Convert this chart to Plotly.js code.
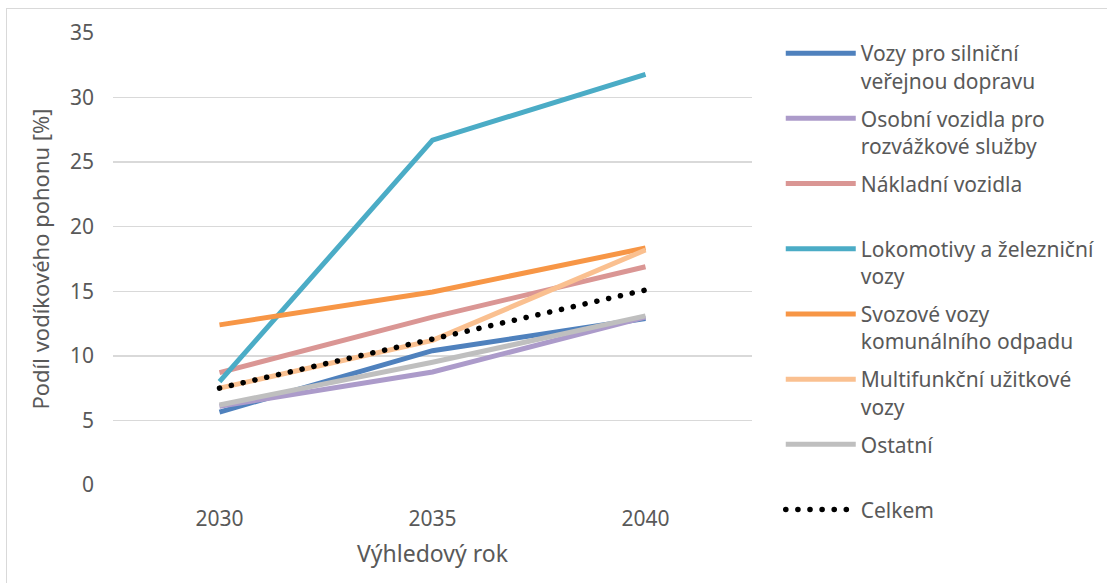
<!DOCTYPE html>
<html>
<head>
<meta charset="utf-8">
<script src="https://cdn.plot.ly/plotly-3.0.1.min.js"></script>
<style>
  html, body { margin: 0; padding: 0; background: #fff; }
  #wrap { position: relative; width: 1107px; height: 583px; overflow: hidden; }
  #frame { position: absolute; left: 6px; top: 8px; width: 1200px; height: 700px; border-left: 1px solid #d9d9d9; border-top: 1px solid #d9d9d9; pointer-events: none; }
  #chart { position: absolute; left: 0; top: 0; width: 1140px; height: 583px; }
</style>
</head>
<body>
<div id="wrap">
  <div id="chart"></div>
  <div id="frame"></div>
</div>
<script>
const years = ['2030', '2035', '2040'];

const seriesNames = [
  'Vozy pro silniční<br>veřejnou dopravu',
  'Osobní vozidla pro<br>rozvážkové služby',
  'Nákladní vozidla<br>\u00a0',
  'Lokomotivy a železniční<br>vozy',
  'Svozové vozy<br>komunálního odpadu',
  'Multifunkční užitkové<br>vozy',
  'Ostatní<br>\u00a0',
  'Celkem'
];

const vozyVerejna   = [5.65, 10.4, 12.9];
const osobniRozvoz  = [6.1, 8.75, 13.0];
const nakladni      = [8.7, 13.0, 16.9];
const lokomotivy    = [8.0, 26.7, 31.8];
const svozove       = [12.4, 14.95, 18.35];
const multifunkcni  = [7.5, 11.2, 18.2];
const ostatni       = [6.2, 9.5, 13.1];
const celkem        = [7.5, 11.3, 15.1];

const seriesValues = [vozyVerejna, osobniRozvoz, nakladni, lokomotivy, svozove, multifunkcni, ostatni, celkem];
const seriesColors = ['#4f81bd', '#ac9bca', '#da9694', '#4bacc6', '#f79646', '#fac090', '#bfbfbf', '#000000'];

const FONT = 'Noto Sans, Open Sans, sans-serif';
const GREY = '#595959';

const traces = seriesValues.map((vals, i) => ({
  type: 'scatter',
  mode: 'lines',
  x: years,
  y: vals,
  name: seriesNames[i],
  legendgroup: 'g' + i,
  line: i === 7
    ? { color: seriesColors[i], width: 5.5, dash: '0.1px,12px' }
    : { color: seriesColors[i], width: 5 },
  hoverinfo: 'x+y+name'
}));

const layout = {
  width: 1140,
  height: 583,
  margin: { l: 113, r: 388, t: 33, b: 98, pad: 0 },
  paper_bgcolor: 'rgba(0,0,0,0)',
  plot_bgcolor: 'rgba(0,0,0,0)',
  font: { family: FONT, size: 21, color: GREY },
  showlegend: true,
  legend: {
    x: 1.045, xanchor: 'left',
    y: 1.0, yanchor: 'top',
    valign: 'top',
    itemwidth: 70,
    tracegroupgap: 7.6,
    maxheight: 580,
    font: { family: FONT, size: 21, color: GREY },
    bgcolor: 'rgba(0,0,0,0)'
  },
  xaxis: {
    type: 'category',
    range: [-0.5, 2.5],
    showgrid: false,
    zeroline: false,
    showline: false,
    ticks: '',
    ticklabelstandoff: 19,
    tickfont: { family: FONT, size: 21, color: GREY },
    title: { text: 'Výhledový rok', font: { family: FONT, size: 23, color: GREY }, standoff: 14 }
  },
  yaxis: {
    range: [0, 35],
    dtick: 5,
    tick0: 0,
    showgrid: true,
    gridcolor: '#d9d9d9',
    gridwidth: 1.5,
    zeroline: false,
    showline: false,
    ticks: '',
    ticklabelstandoff: 18,
    tickfont: { family: FONT, size: 21, color: GREY },
    title: { text: 'Podíl vodíkového pohonu [%]', font: { family: FONT, size: 22, color: GREY }, standoff: 14 }
  }
};

Plotly.newPlot('chart', traces, layout, { displayModeBar: false, staticPlot: true }).then(() => {
  const root = document.getElementById('chart');
  const lineTraces = root.querySelectorAll('.scatterlayer .trace');
  const last = lineTraces[lineTraces.length - 1];
  if (last) last.querySelectorAll('path.js-line').forEach(p => { p.style.strokeLinecap = 'round'; });
  const legendItems = root.querySelectorAll('.legend .traces');
  const lastLeg = legendItems[legendItems.length - 1];
  if (lastLeg) lastLeg.querySelectorAll('path').forEach(p => { p.style.strokeLinecap = 'round'; });
});
</script>
</body>
</html>
